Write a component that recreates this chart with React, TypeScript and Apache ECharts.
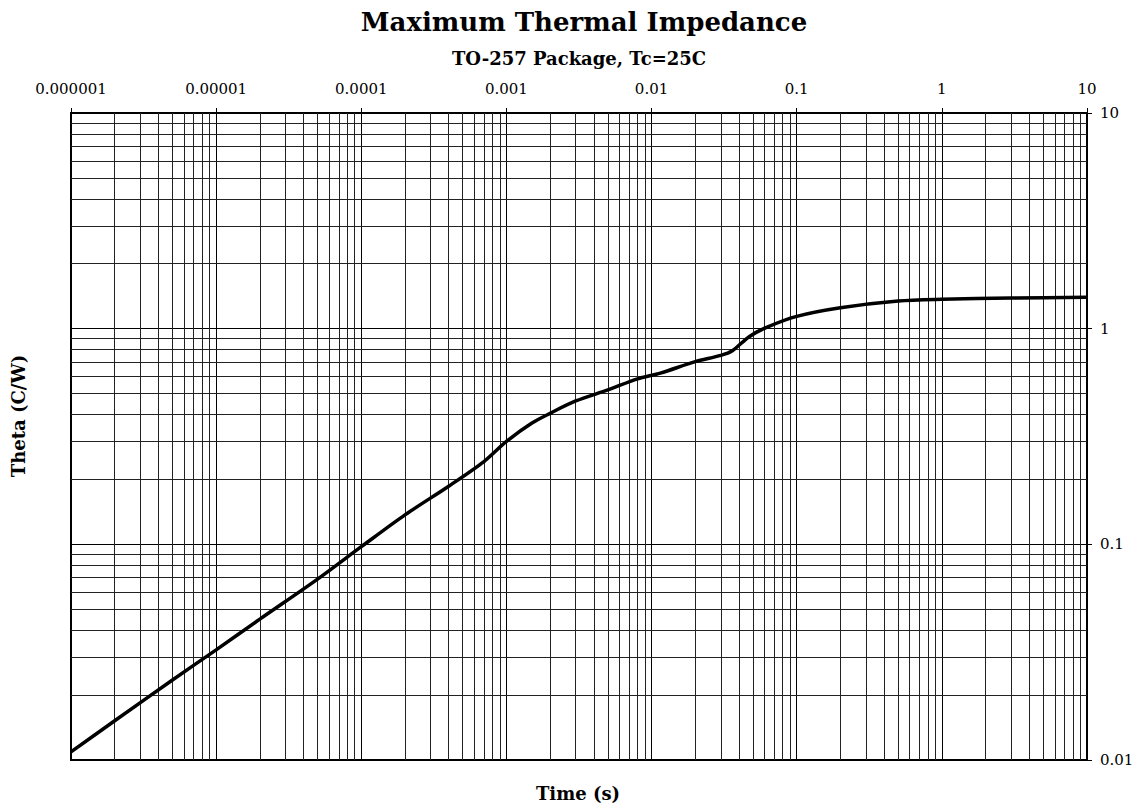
import React, { useEffect, useRef } from "react";
import * as echarts from "echarts";

const timeValues = [
  1e-6, 2e-6, 5e-6, 1e-5, 2e-5, 5e-5, 1e-4, 2e-4, 4e-4, 7e-4, 1e-3, 1.5e-3, 2e-3,
  3e-3, 5e-3, 8e-3, 0.0115, 0.02, 0.03, 0.036, 0.047, 0.062, 0.1, 0.2, 0.5, 1, 3, 10,
];
const thetaValues = [
  0.0109, 0.0152, 0.0235, 0.0324, 0.045, 0.069, 0.0975, 0.137, 0.186, 0.242, 0.3,
  0.365, 0.405, 0.462, 0.52, 0.585, 0.622, 0.703, 0.752, 0.79, 0.918, 1.014, 1.14,
  1.25, 1.343, 1.368, 1.387, 1.398,
];

const xTickLabels = ["0.000001", "0.00001", "0.0001", "0.001", "0.01", "0.1", "1", "10"];
const yTickLabels = ["0.01", "0.1", "1", "10"];
const xDecades = [1e-6, 1e-5, 1e-4, 1e-3, 1e-2, 1e-1, 1];
const yDecades = [0.01, 0.1, 1];
const minorMultipliers = [2, 3, 4, 5, 6, 7, 8, 9];

const FONT = "DejaVu Serif";

export default function App() {
  const ref = useRef<HTMLDivElement>(null);
  useEffect(() => {
    if (!ref.current) return;
    const chart = echarts.init(ref.current, undefined, { renderer: "svg" });

    const minorX: any[] = [];
    xDecades.forEach((d) => minorMultipliers.forEach((m) => minorX.push({ xAxis: +(d * m).toPrecision(3) })));
    const minorY: any[] = [];
    yDecades.forEach((d) => minorMultipliers.forEach((m) => minorY.push({ yAxis: +(d * m).toPrecision(3) })));

    const data = timeValues.map((t, i) => [t, thetaValues[i]]);

    chart.setOption({
      animation: false,
      backgroundColor: "#fff",
      title: [
        {
          text: "Maximum Thermal Impedance",
          left: 579,
          top: 4,
          textAlign: "center",
          textStyle: { fontFamily: FONT, fontWeight: "bold", fontSize: 26, color: "#000" },
        },
        {
          text: "TO-257 Package, Tc=25C",
          left: 574,
          top: 44,
          textAlign: "center",
          textStyle: { fontFamily: FONT, fontWeight: "bold", fontSize: 18, color: "#000" },
        },
      ],
      grid: {
        left: 71,
        right: 56,
        top: 113,
        bottom: 51,
        show: true,
        borderColor: "#000",
        borderWidth: 2,
        backgroundColor: "transparent",
      },
      xAxis: {
        type: "log",
        logBase: 10,
        position: "top",
        min: 1e-6,
        max: 10,
        splitNumber: 10,
        axisLine: { show: true, lineStyle: { color: "#000", width: 2 } },
        axisTick: { show: true, inside: false, length: 5, lineStyle: { color: "#000" } },
        axisLabel: {
          margin: 17,
          fontFamily: FONT,
          fontSize: 15,
          color: "#000",
          formatter: (v: number) => xTickLabels[Math.round(Math.log10(v)) + 6] ?? "",
        },
        splitLine: { show: true, lineStyle: { color: "#000", width: 1 } },
      },
      yAxis: {
        type: "log",
        logBase: 10,
        position: "right",
        min: 0.01,
        max: 10,
        splitNumber: 10,
        axisLine: { show: true, lineStyle: { color: "#000", width: 2 } },
        axisTick: { show: true, inside: false, length: 5, lineStyle: { color: "#000" } },
        axisLabel: {
          margin: 13,
          fontFamily: FONT,
          fontSize: 15,
          color: "#000",
          formatter: (v: number) => yTickLabels[Math.round(Math.log10(v)) + 2] ?? "",
        },
        splitLine: { show: true, lineStyle: { color: "#000", width: 1 } },
      },
      graphic: [
        {
          type: "text",
          x: 578,
          y: 793,
          style: {
            text: "Time (s)",
            fontFamily: FONT,
            fontWeight: "bold",
            fontSize: 18,
            fill: "#000",
            textAlign: "center",
            textVerticalAlign: "middle",
          },
        },
        {
          type: "text",
          x: 18,
          y: 416,
          rotation: Math.PI / 2,
          style: {
            text: "Theta (C/W)",
            fontFamily: FONT,
            fontWeight: "bold",
            fontSize: 18,
            fill: "#000",
            textAlign: "center",
            textVerticalAlign: "middle",
          },
        },
      ],
      series: [
        {
          type: "line",
          data,
          smooth: 0.3,
          showSymbol: false,
          symbol: "none",
          lineStyle: { color: "#000", width: 3.5 },
          z: 5,
          markLine: {
            silent: true,
            symbol: "none",
            precision: 12,
            label: { show: false },
            lineStyle: { color: "#222", width: 1, type: "solid" },
            emphasis: { disabled: true },
            data: [...minorX, ...minorY],
            z: 1,
          },
        },
      ],
    });
    return () => chart.dispose();
  }, []);
  return <div ref={ref} style={{ position: "fixed", left: 0, top: 0, width: 1143, height: 811 }} />;
}
